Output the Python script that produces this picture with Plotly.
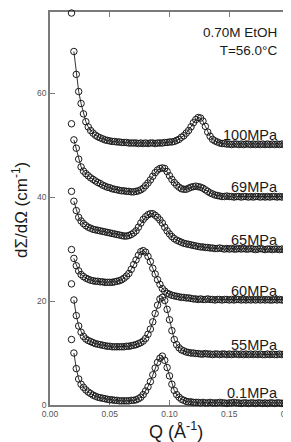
import plotly.graph_objects as go

# Q grid (Å^-1); first point is the isolated low-Q point
Q = [0.018,
     0.020, 0.022, 0.024, 0.026, 0.028, 0.030, 0.032, 0.034, 0.036, 0.038,
     0.040, 0.042, 0.044, 0.046, 0.048, 0.050, 0.052, 0.054, 0.056, 0.058,
     0.060, 0.062, 0.064, 0.066, 0.068, 0.070, 0.072, 0.074, 0.076, 0.078,
     0.080, 0.082, 0.084, 0.086, 0.088, 0.090, 0.092, 0.094, 0.096, 0.098,
     0.100, 0.102, 0.104, 0.106, 0.108, 0.110, 0.112, 0.114, 0.116, 0.118,
     0.120, 0.122, 0.124, 0.126, 0.128, 0.130, 0.132, 0.134, 0.136, 0.138,
     0.140, 0.142, 0.144, 0.146, 0.148, 0.150, 0.152, 0.154, 0.156, 0.158,
     0.160, 0.162, 0.164, 0.166, 0.168, 0.170, 0.172, 0.174, 0.176, 0.178,
     0.180, 0.182, 0.184, 0.186, 0.188, 0.190, 0.192, 0.194, 0.196, 0.198,
     0.200]

P100 = [75.4,
        68.0, 63.6, 60.3, 58.0, 56.0, 54.5, 53.5, 52.8, 52.3, 51.9,
        51.6, 51.4, 51.2, 51.0, 50.9, 50.8, 50.7, 50.7, 50.6, 50.6,
        50.5, 50.5, 50.5, 50.4, 50.4, 50.4, 50.4, 50.3, 50.4, 50.3,
        50.4, 50.3, 50.4, 50.4, 50.3, 50.4, 50.4, 50.4, 50.5, 50.5,
        50.6, 50.6, 50.7, 50.9, 51.1, 51.5, 51.8, 52.3, 52.8, 53.5,
        54.3, 54.9, 55.3, 55.2, 54.6, 53.6, 52.5, 51.7, 51.1, 50.8,
        50.6, 50.4, 50.3, 50.3, 50.2, 50.2, 50.1, 50.2, 50.2, 50.1,
        50.2, 50.1, 50.2, 50.2, 50.1, 50.2, 50.1, 50.2, 50.1, 50.2,
        50.1, 50.2, 50.1, 50.2, 50.1, 50.2, 50.1, 50.2, 50.1, 50.2,
        50.2]

P69 = [54.1,
       51.0, 49.4, 47.3, 45.8, 45.0, 44.5, 44.1, 43.7, 43.4, 43.1,
       42.8, 42.6, 42.3, 42.1, 41.9, 41.8, 41.6, 41.5, 41.4, 41.3,
       41.2, 41.2, 41.1, 41.1, 41.0, 41.0, 41.1, 41.2, 41.4, 41.7,
       42.2, 42.7, 43.3, 44.0, 44.7, 45.2, 45.5, 45.6, 45.5, 44.9,
       44.1, 43.4, 42.8, 42.3, 41.9, 41.6, 41.5, 41.5, 41.7, 41.9,
       42.0, 42.1, 42.0, 41.9, 41.7, 41.4, 41.1, 40.8, 40.6, 40.4,
       40.3, 40.2, 40.1, 40.1, 40.2, 40.1, 40.1, 40.0, 40.1, 40.1,
       40.0, 40.1, 40.1, 40.0, 40.1, 40.0, 40.1, 40.1, 40.0, 40.1,
       40.0, 40.1, 40.0, 40.1, 40.1, 40.0, 40.1, 40.0, 40.1, 40.0,
       40.1]

P65 = [41.1,
       39.2, 37.4, 36.1, 35.4, 34.9, 34.5, 34.2, 34.0, 33.8, 33.7,
       33.6, 33.5, 33.4, 33.3, 33.2, 33.1, 33.0, 32.9, 32.8, 32.7,
       32.6, 32.5, 32.5, 32.6, 32.8, 33.1, 33.5, 34.2, 35.0, 35.7,
       36.2, 36.6, 36.8, 36.8, 36.5, 36.1, 35.6, 35.0, 34.2, 33.5,
       32.9, 32.4, 32.0, 31.7, 31.5, 31.3, 31.1, 31.0, 30.9, 30.8,
       30.7, 30.6, 30.5, 30.4, 30.4, 30.3, 30.3, 30.2, 30.2, 30.1,
       30.1, 30.2, 30.1, 30.0, 30.1, 30.0, 30.1, 30.0, 30.0, 30.1,
       30.0, 30.1, 30.0, 30.0, 30.1, 30.0, 29.9, 30.0, 30.1, 30.0,
       29.9, 30.0, 30.0, 29.9, 30.0, 30.0, 29.9, 30.0, 29.9, 30.0,
       29.9]

P60 = [29.9,
       28.2, 26.8, 25.8, 25.1, 24.7, 24.4, 24.2, 24.0, 23.9, 23.8,
       23.8, 23.7, 23.7, 23.6, 23.6, 23.6, 23.6, 23.7, 23.8, 23.9,
       24.1, 24.4, 24.8, 25.3, 26.1, 27.0, 27.9, 28.8, 29.5, 29.7,
       29.4, 28.6, 27.6, 26.3, 25.2, 24.1, 23.2, 22.4, 21.9, 21.5,
       21.3, 21.1, 21.0, 20.9, 20.8, 20.7, 20.7, 20.6, 20.6, 20.5,
       20.4, 20.4, 20.3, 20.4, 20.3, 20.3, 20.4, 20.3, 20.3, 20.2,
       20.3, 20.3, 20.2, 20.3, 20.3, 20.2, 20.3, 20.2, 20.3, 20.3,
       20.2, 20.3, 20.2, 20.3, 20.2, 20.3, 20.2, 20.3, 20.2, 20.3,
       20.2, 20.3, 20.2, 20.2, 20.3, 20.2, 20.3, 20.2, 20.2, 20.3,
       20.3]

P55 = [23.3,
       20.2, 17.2, 15.2, 14.0, 13.2, 12.7, 12.4, 12.2, 12.0, 11.8,
       11.7, 11.6, 11.5, 11.4, 11.3, 11.3, 11.2, 11.2, 11.2, 11.2,
       11.2, 11.2, 11.3, 11.3, 11.4, 11.5, 11.6, 11.8, 12.0, 12.3,
       12.8, 13.6, 14.6, 16.0, 17.6, 19.2, 20.4, 20.7, 20.1, 18.4,
       16.4, 14.3, 12.6, 11.6, 11.0, 10.6, 10.4, 10.2, 10.1, 10.0,
       10.0, 9.9, 9.9, 9.8, 9.8, 9.9, 9.8, 9.8, 9.7, 9.8,
       9.8, 9.7, 9.8, 9.8, 9.7, 9.8, 9.7, 9.8, 9.8, 9.7,
       9.8, 9.7, 9.8, 9.7, 9.8, 9.7, 9.8, 9.7, 9.8, 9.7,
       9.7, 9.8, 9.7, 9.8, 9.7, 9.7, 9.8, 9.7, 9.8, 9.7,
       9.8]

P01 = [12.6,
       10.0, 7.0, 5.0, 4.0, 3.4, 2.9, 2.5, 2.2, 1.9, 1.7,
       1.5, 1.4, 1.3, 1.2, 1.1, 1.0, 1.0, 0.9, 0.9, 0.8,
       0.8, 0.8, 0.8, 0.8, 0.9, 0.9, 1.0, 1.2, 1.5, 2.0,
       2.7, 3.5, 4.5, 5.8, 7.1, 8.2, 9.0, 9.4, 8.6, 7.2,
       5.6, 4.0, 2.8, 2.0, 1.5, 1.1, 0.9, 0.7, 0.6, 0.6,
       0.5, 0.5, 0.5, 0.4, 0.5, 0.4, 0.4, 0.5, 0.4, 0.4,
       0.4, 0.5, 0.4, 0.4, 0.3, 0.4, 0.4, 0.5, 0.4, 0.4,
       0.3, 0.4, 0.4, 0.3, 0.4, 0.4, 0.3, 0.4, 0.4, 0.3,
       0.4, 0.3, 0.4, 0.4, 0.3, 0.4, 0.4, 0.3, 0.4, 0.4,
       0.4]

SERIES = [P100, P69, P65, P60, P55, P01]
LABELS = ["100MPa", "69MPa", "65MPa", "60MPa", "55MPa", "0.1MPa"]
LABEL_Y = [52.0, 42.0, 31.8, 21.9, 11.6, 2.3]

X_TICKS = [0.00, 0.05, 0.10, 0.15, 0.20]
Y_TICKS = [0, 20, 40, 60]

FONT = "Liberation Sans, Arial, Helvetica, sans-serif"
INK = "#1a1a1a"

fig = go.Figure()
for ys in SERIES:
    fig.add_trace(go.Scatter(x=Q[1:], y=ys[1:], mode="lines",
                             line=dict(color=INK, width=0.9),
                             hoverinfo="skip", showlegend=False,
                             cliponaxis=False))
    fig.add_trace(go.Scatter(x=Q, y=ys, mode="markers",
                             marker=dict(symbol="circle-open", size=6.5,
                                         color=INK, line=dict(width=1, color=INK)),
                             showlegend=False, cliponaxis=False))

for lab, ly in zip(LABELS, LABEL_Y):
    fig.add_annotation(x=0.1928, y=ly, text=lab, showarrow=False,
                       xanchor="right", yanchor="middle",
                       font=dict(family=FONT, size=14.5, color=INK))

fig.add_annotation(x=0.1928, y=0.972, xref="x", yref="paper",
                   text="0.70M EtOH<br>T=56.0°C", align="right",
                   showarrow=False, xanchor="right", yanchor="top",
                   font=dict(family=FONT, size=13.5, color=INK))

# axis titles as positioned annotations
fig.add_annotation(x=0.527, y=-0.066, xref="paper", yref="paper",
                   text="Q (Å<sup>-1</sup>)", showarrow=False,
                   xanchor="center", yanchor="middle",
                   font=dict(family=FONT, size=18, color=INK))
fig.add_annotation(x=-0.126, y=0.496, xref="paper", yref="paper",
                   text="dΣ/dΩ (cm<sup>-1</sup>)", showarrow=False, textangle=-90,
                   xanchor="center", yanchor="middle",
                   font=dict(family=FONT, size=17, color=INK))

axis_common = dict(showline=True, linecolor="#7a7a7a", linewidth=1.6,
                   mirror="ticks", ticks="inside", ticklen=5, tickwidth=1,
                   tickcolor="#7a7a7a", showgrid=False, zeroline=False,
                   layer="below traces",
                   tickfont=dict(family=FONT, size=8.5, color="#555555"))

fig.update_xaxes(range=[0, 0.2], tickvals=X_TICKS, tickformat=".2f", **axis_common)
fig.update_yaxes(range=[0, 75.6], tickvals=Y_TICKS, **axis_common)

fig.update_layout(width=291, height=442,
                  margin=dict(l=42, r=10, t=4, b=45, autoexpand=False),
                  paper_bgcolor="white", plot_bgcolor="white")

fig.write_html("out.html")
